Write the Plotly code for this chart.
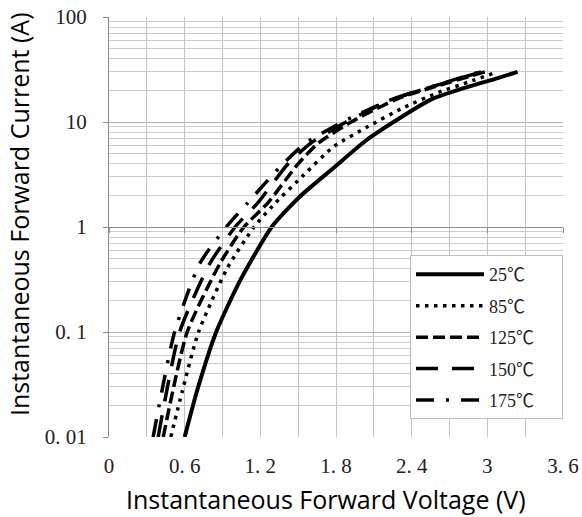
import plotly.graph_objects as go

# ---- data ----
v25 = [0.60, 0.70, 0.85, 1.04, 1.29, 1.51, 1.78, 2.04, 2.30, 2.56, 2.84, 3.05, 3.24]
i25 = [0.01, 0.028, 0.1, 0.31, 1.0, 1.93, 3.65, 6.7, 10.8, 16.5, 21.5, 25.5, 30]

v85 = [0.49, 0.58, 0.71, 0.94, 1.15, 1.30, 1.54, 1.78, 2.05, 2.33, 2.62, 2.85, 3.08]
i85 = [0.01, 0.027, 0.1, 0.41, 1.0, 1.6, 3.1, 5.8, 9.0, 13.6, 19.3, 24, 30]

v125 = [0.43, 0.62, 0.88, 1.07, 1.26, 1.50, 1.66, 1.92, 2.30, 2.60, 2.98]
i125 = [0.01, 0.1, 0.45, 1.0, 1.7, 4.0, 6.3, 10, 16.9, 22, 30]

v150 = [0.39, 0.56, 0.80, 1.00, 1.18, 1.42, 1.60, 1.88, 2.25, 2.55, 2.95]
i150 = [0.01, 0.1, 0.45, 1.0, 1.7, 4.0, 6.3, 10, 16.5, 21.5, 30]

v175 = [0.35, 0.52, 0.72, 0.93, 1.10, 1.38, 1.56, 1.85, 2.22, 2.52, 2.92]
i175 = [0.01, 0.1, 0.45, 1.0, 1.7, 4.0, 6.3, 10, 16, 21, 29.5]

series_names = ["25℃", "85℃", "125℃", "150℃", "175℃"]

x_tickvals = [0, 0.6, 1.2, 1.8, 2.4, 3, 3.6]
x_ticktext = ["0", "0. 6", "1. 2", "1. 8", "2. 4", "3", "3. 6"]
y_tickvals = [0.01, 0.1, 1, 10, 100]
y_ticktext = ["0. 01", "0. 1", "1", "10", "100"]

x_title = "Instantaneous Forward Voltage (V)"
y_title = "Instantaneous Forward Current (A)"

# ---- figure ----
serif = "Liberation Serif, Noto Sans CJK SC, serif"
sans = "Open Sans, Noto Sans, sans-serif"

styles = [
    dict(width=4, dash="solid"),
    dict(width=3.5, dash="3.5px,5.5px"),
    dict(width=3.5, dash="12px,5px"),
    dict(width=3.5, dash="22px,14px"),
    dict(width=3.5, dash="18px,12px,3px,12px"),
]
data = [(v25, i25), (v85, i85), (v125, i125), (v150, i150), (v175, i175)]

pad = "\u00a0" * 5  # right padding inside the legend box

fig = go.Figure()
for (vx, iy), name, st in zip(data, series_names, styles):
    fig.add_trace(go.Scatter(
        x=vx, y=iy, mode="lines", name=name + pad, legendgroup=name,
        line=dict(color="black", width=st["width"], dash=st["dash"], shape="spline", smoothing=0.6),
    ))

fig.update_layout(
    width=582, height=517,
    margin=dict(l=109, r=19, t=17, b=80, autoexpand=False),
    plot_bgcolor="white", paper_bgcolor="white",
    showlegend=True,
    legend=dict(
        x=1.0, y=0.433, xanchor="right", yanchor="top",
        bgcolor="white", bordercolor="#bfbfbf", borderwidth=1,
        font=dict(family=serif, size=18, color="#222"),
        itemwidth=68,
        tracegroupgap=5,
    ),
    xaxis=dict(
        range=[0, 3.6], tickmode="array", tickvals=x_tickvals, ticktext=x_ticktext,
        showgrid=True, gridcolor="#c4c4c4", gridwidth=1,
        minor=dict(dtick=0.3, tick0=0, showgrid=True, gridcolor="#c4c4c4", gridwidth=1),
        showline=False, zeroline=False, ticks="", automargin=False,
        ticklabelstandoff=14,
        tickfont=dict(family=serif, size=21, color="#222"),
    ),
    yaxis=dict(
        type="log", range=[-2, 2], tickmode="array", tickvals=y_tickvals, ticktext=y_ticktext,
        showgrid=True, gridcolor="#b4b4b4", gridwidth=1,
        minor=dict(dtick="D1", showgrid=True, gridcolor="#cccccc", gridwidth=1),
        showline=True, linecolor="#8c8c8c", linewidth=1,
        ticks="outside", ticklen=5, tickcolor="#8c8c8c",
        zeroline=False, automargin=False,
        ticklabelstandoff=12,
        tickfont=dict(family=serif, size=21, color="#222"),
    ),
    xaxis2=dict(
        overlaying="x", matches="x", anchor="free", position=0.5,
        range=[0, 3.6], tickmode="array", tickvals=x_tickvals,
        showticklabels=False, showgrid=False, showline=True, linecolor="#8c8c8c", linewidth=1,
        ticks="outside", ticklen=5, tickcolor="#8c8c8c", zeroline=False, automargin=False,
    ),
    annotations=[
        dict(text=x_title, xref="paper", yref="paper", x=0.477, y=-0.148,
             xanchor="center", yanchor="middle", showarrow=False,
             font=dict(family=sans, size=25, color="black")),
        dict(text=y_title, xref="paper", yref="paper", x=-0.198, y=0.531, textangle=-90,
             xanchor="center", yanchor="middle", showarrow=False,
             font=dict(family=sans, size=25, color="black")),
    ],
)
# invisible trace to activate the secondary axis line crossing at 1 A
fig.add_trace(go.Scatter(x=[0, 3.6], y=[1, 1], xaxis="x2", mode="lines",
                         line=dict(color="rgba(0,0,0,0)"), showlegend=False, hoverinfo="skip"))

fig.write_html("out.html", config={"displayModeBar": False},
               post_script="document.body.style.margin='0';")
